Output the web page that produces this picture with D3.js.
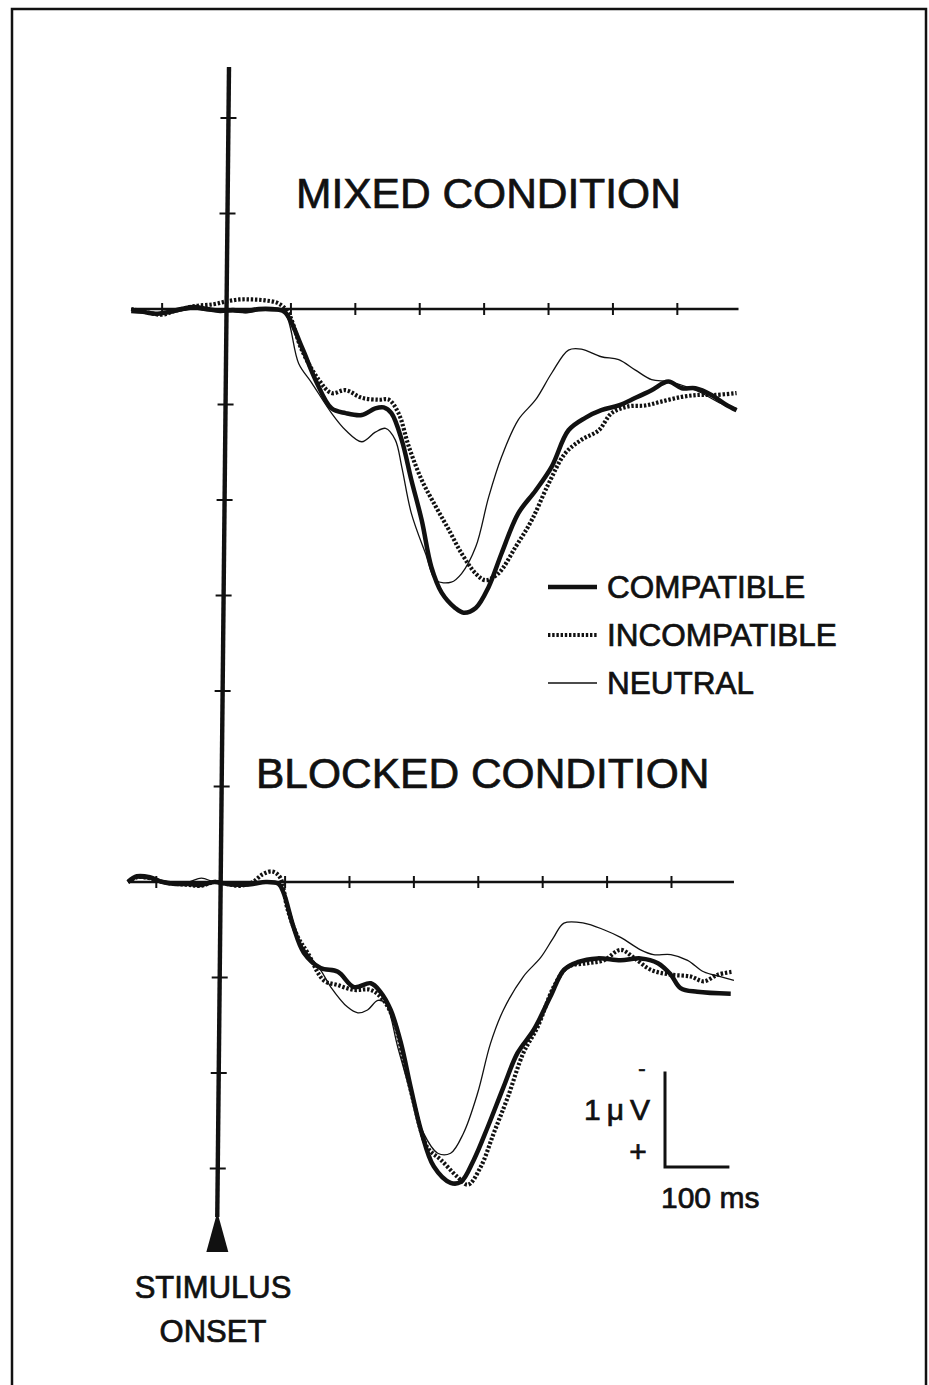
<!DOCTYPE html>
<html>
<head>
<meta charset="utf-8">
<title>Mixed vs blocked condition ERP</title>
<script src="https://cdn.jsdelivr.net/npm/d3@7"></script>
<style>
  html, body { margin: 0; padding: 0; background: #fff; }
  svg { display: block; }
  text { font-family: "Liberation Sans", Arial, sans-serif; fill: #111; stroke: #111; stroke-width: 0.7px; }
</style>
</head>
<body>
<div id="chart"></div>
<script>
// ERP waveforms, time in ms from stimulus onset, amplitude in µV (positive drawn downward)

// --- MIXED CONDITION ---
const mixedCompatible = [
  [-148,0.02],[-130,0.03],[-110,0.05],[-90,0.03],[-70,0.0],[-50,-0.02],[-30,0.0],[-10,0.02],
  [10,0.01],[30,0.02],[50,0.0],[70,0.0],[90,0.03],[117,0.40],[138,0.74],[163,1.04],[185,1.09],
  [210,1.11],[231,1.04],[244,1.03],[256,1.09],[272,1.37],[287,1.79],[303,2.21],[318,2.70],
  [334,2.97],[355,3.13],[368,3.18],[387,3.13],[407,2.91],[427,2.56],[453,2.14],[480,1.90],
  [505,1.65],[531,1.27],[557,1.14],[582,1.06],[609,1.01],[635,0.93],[660,0.85],[686,0.76],
  [707,0.83],[728,0.83],[753,0.90],[775,1.00],[792,1.06]
];
const mixedIncompatible = [
  [-148,0.0],[-120,0.04],[-100,0.06],[-80,0.02],[-50,-0.03],[-20,-0.05],[0,-0.08],[20,-0.1],
  [40,-0.1],[60,-0.09],[80,-0.06],[95,0.03],[117,0.43],[143,0.74],[163,0.88],[185,0.85],
  [210,0.93],[236,0.95],[252,0.95],[267,1.09],[283,1.44],[303,1.79],[325,2.07],[345,2.31],
  [365,2.56],[387,2.77],[402,2.84],[422,2.77],[449,2.49],[474,2.21],[500,1.83],[526,1.51],
  [551,1.37],[578,1.27],[598,1.09],[624,1.02],[650,1.01],[675,0.97],[707,0.92],[733,0.90],
  [759,0.90],[792,0.88]
];
const mixedNeutral = [
  [-148,0.0],[-130,0.02],[-110,0.04],[-90,0.05],[-70,0.02],[-50,0.0],[-30,0.02],[-10,0.03],
  [10,0.03],[30,0.04],[50,0.02],[70,0.02],[90,0.04],[112,0.57],[132,0.77],[163,1.09],[185,1.27],
  [210,1.39],[231,1.29],[247,1.25],[262,1.37],[272,1.65],[287,2.14],[309,2.56],[325,2.84],
  [349,2.86],[365,2.77],[387,2.49],[407,1.97],[427,1.55],[453,1.16],[480,0.95],[505,0.67],
  [531,0.43],[551,0.42],[582,0.50],[609,0.53],[635,0.64],[660,0.74],[686,0.76],[717,0.82],
  [738,0.88],[765,0.98],[792,1.04]
];

// --- BLOCKED CONDITION ---
const blockedCompatible = [
  [-144,0.0],[-130,-0.06],[-110,-0.05],[-90,0.0],[-70,0.02],[-50,0.02],[-30,0.03],[-10,0.0],
  [10,0.02],[30,0.03],[50,0.02],[70,0.0],[90,0.02],[98,0.12],[113,0.47],[129,0.74],[155,0.90],
  [182,0.94],[207,1.10],[233,1.06],[248,1.15],[264,1.34],[280,1.69],[295,2.15],[311,2.60],
  [331,2.98],[357,3.15],[373,3.14],[393,2.91],[415,2.56],[439,2.15],[461,1.79],[486,1.55],
  [512,1.20],[533,0.92],[554,0.84],[585,0.80],[621,0.82],[652,0.80],[679,0.85],[699,0.97],
  [714,1.11],[740,1.15],[792,1.17]
];
const blockedIncompatible = [
  [-144,0.0],[-130,-0.05],[-110,-0.04],[-90,0.0],[-70,0.02],[-50,0.03],[-30,0.04],[-10,0.0],
  [10,0.02],[30,0.04],[50,0.0],[65,-0.08],[80,-0.11],[92,-0.05],[104,0.29],[120,0.58],[135,0.74],
  [160,1.03],[182,1.08],[207,1.13],[233,1.13],[253,1.24],[269,1.45],[284,1.86],[300,2.31],
  [321,2.78],[342,2.91],[368,3.09],[384,3.17],[404,2.98],[424,2.63],[446,2.25],[470,1.79],
  [492,1.52],[517,1.10],[539,0.89],[570,0.85],[595,0.82],[621,0.71],[641,0.79],[668,0.92],
  [699,0.97],[730,0.99],[750,1.04],[772,0.97],[795,0.94]
];
const blockedNeutral = [
  [-144,0.0],[-130,-0.04],[-110,-0.03],[-90,0.0],[-70,0.01],[-50,0.0],[-30,-0.04],[-10,0.0],
  [10,0.02],[30,0.02],[50,0.01],[70,0.0],[90,0.02],[105,0.25],[124,0.64],[155,0.92],[171,1.10],
  [197,1.31],[213,1.37],[228,1.34],[244,1.24],[256,1.27],[275,1.73],[295,2.21],[315,2.63],
  [337,2.84],[357,2.84],[377,2.63],[399,2.21],[419,1.69],[439,1.34],[470,0.99],[497,0.79],
  [517,0.58],[533,0.43],[564,0.43],[595,0.50],[621,0.58],[652,0.71],[672,0.76],[699,0.76],
  [725,0.82],[750,0.94],[776,0.99],[797,1.03]
];

const timeTicks = [-100, 100, 200, 300, 400, 500, 600, 700];
const mixedAmpTicks = [-2, -1, 1, 2, 3, 4, 5];
const blockedAmpTicks = [1, 2, 3];
const legendLabels = ['COMPATIBLE', 'INCOMPATIBLE', 'NEUTRAL'];

// --- layout ---
const W = 929, H = 1385;
const msPx = 0.644, uvPx = 95.5;

const svg = d3.select('#chart').append('svg').attr('width', W).attr('height', H);

// frame of the scanned figure
svg.append('path')
  .attr('d', `M12,${H} L12,9 L926,9 L926,${H}`)
  .attr('fill', 'none').attr('stroke', '#111').attr('stroke-width', 2.5);

// the scan is slightly sheared: the onset axis leans left going down
const axisTop = 67, axisTipY = 1212;
const axisX = y => 229 - (y - axisTop) * 0.0102;

const styles = {
  COMPATIBLE:   { w: 4.5, dash: null },
  INCOMPATIBLE: { w: 4.2, dash: '2.4,1.8' },
  NEUTRAL:      { w: 1.3, dash: null }
};

function panel(baseY, tMin, tMax, ampTicks, series){
  const x0 = axisX(baseY);
  const x = d3.scaleLinear().domain([0, 100]).range([x0, x0 + 100 * msPx]);
  const y = d3.scaleLinear().domain([0, 1]).range([baseY, baseY + uvPx]);
  const g = svg.append('g');

  // time axis
  g.append('line')
    .attr('x1', x(tMin)).attr('x2', x(tMax)).attr('y1', y(0)).attr('y2', y(0))
    .attr('stroke', '#111').attr('stroke-width', 2.4);
  g.selectAll('line.tt').data(timeTicks).enter().append('line').attr('class', 'tt')
    .attr('x1', d => x(d)).attr('x2', d => x(d))
    .attr('y1', y(0) - 6).attr('y2', y(0) + 6)
    .attr('stroke', '#111').attr('stroke-width', 2);

  // amplitude ticks on the onset axis
  g.selectAll('line.at').data(ampTicks).enter().append('line').attr('class', 'at')
    .attr('x1', d => axisX(y(d)) - 8).attr('x2', d => axisX(y(d)) + 8)
    .attr('y1', d => y(d)).attr('y2', d => y(d))
    .attr('stroke', '#111').attr('stroke-width', 2);

  const line = d3.line().x(d => x(d[0])).y(d => y(d[1])).curve(d3.curveCatmullRom.alpha(0.5));

  // draw thin first so the thick traces sit on top
  ['NEUTRAL', 'INCOMPATIBLE', 'COMPATIBLE'].forEach(k => {
    g.append('path').datum(series[k])
      .attr('d', line)
      .attr('fill', 'none')
      .attr('stroke', '#111')
      .attr('stroke-width', styles[k].w)
      .attr('stroke-dasharray', styles[k].dash)
      .attr('stroke-linejoin', 'round');
  });
}

panel(309, -148, 795, mixedAmpTicks,
  { COMPATIBLE: mixedCompatible, INCOMPATIBLE: mixedIncompatible, NEUTRAL: mixedNeutral });
panel(882, -144, 797, blockedAmpTicks,
  { COMPATIBLE: blockedCompatible, INCOMPATIBLE: blockedIncompatible, NEUTRAL: blockedNeutral });

// stimulus onset axis + arrow head
svg.append('line')
  .attr('x1', axisX(axisTop)).attr('y1', axisTop)
  .attr('x2', axisX(axisTipY + 5)).attr('y2', axisTipY + 5)
  .attr('stroke', '#111').attr('stroke-width', 4.4);
svg.append('path')
  .attr('d', `M${axisX(axisTipY)},${axisTipY} L${axisX(axisTipY) + 11},1252 L${axisX(axisTipY) - 11},1252 Z`)
  .attr('fill', '#111');

// titles
svg.append('text').attr('x', 296).attr('y', 208).attr('font-size', 42.5).text('MIXED CONDITION');
svg.append('text').attr('x', 256).attr('y', 788).attr('font-size', 42.5).text('BLOCKED CONDITION');

// legend
const leg = svg.append('g');
legendLabels.forEach((lab, i) => {
  const cy = 587 + i * 48;
  leg.append('line')
    .attr('x1', 548).attr('x2', 597).attr('y1', cy).attr('y2', cy)
    .attr('stroke', '#111')
    .attr('stroke-width', styles[lab].w)
    .attr('stroke-dasharray', styles[lab].dash);
  leg.append('text').attr('x', 607).attr('y', cy + 11).attr('font-size', 31.5).text(lab);
});

// calibration bar: 1 µV / 100 ms
const calX = 665, calY = 1167;
svg.append('path')
  .attr('d', `M${calX},${calY - uvPx} L${calX},${calY} L${calX + 100 * msPx},${calY}`)
  .attr('fill', 'none').attr('stroke', '#111').attr('stroke-width', 3);
svg.append('text').attr('x', 650).attr('y', 1120).attr('text-anchor', 'end').attr('font-size', 30).text('1\u2009\u03bc\u2009V');
svg.append('text').attr('x', 642).attr('y', 1076).attr('text-anchor', 'middle').attr('font-size', 22).text('-');
svg.append('text').attr('x', 638).attr('y', 1162).attr('text-anchor', 'middle').attr('font-size', 30).text('+');
svg.append('text').attr('x', 661).attr('y', 1208).attr('font-size', 30).text('100 ms');

// onset label
svg.append('text').attr('x', 213).attr('y', 1298).attr('text-anchor', 'middle').attr('font-size', 31).text('STIMULUS');
svg.append('text').attr('x', 213).attr('y', 1342).attr('text-anchor', 'middle').attr('font-size', 31).text('ONSET');
</script>
</body>
</html>
